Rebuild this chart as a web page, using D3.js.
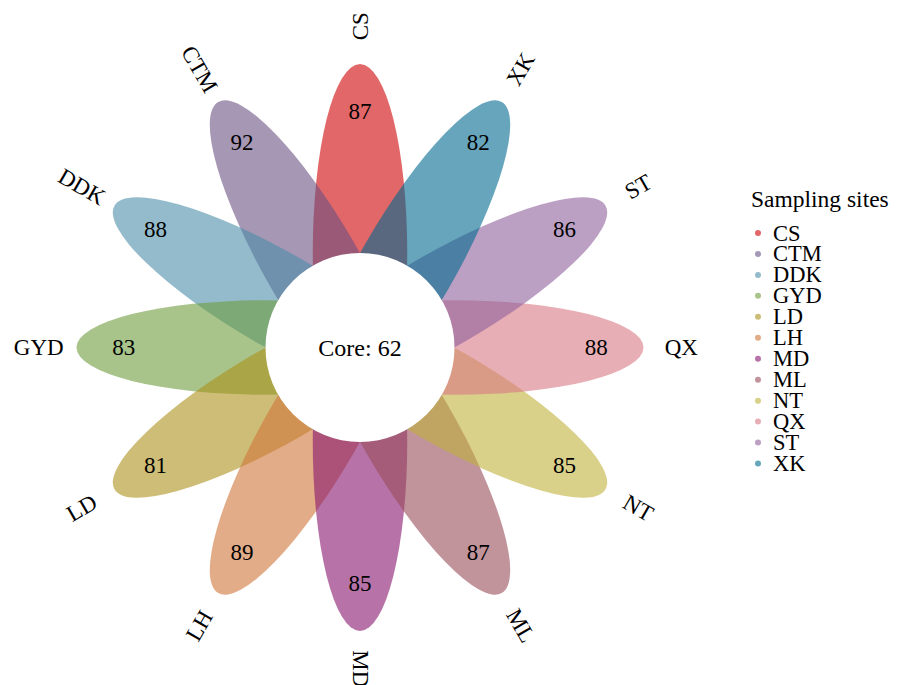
<!DOCTYPE html>
<html>
<head>
<meta charset="utf-8">
<script src="https://cdn.jsdelivr.net/npm/d3@7"></script>
<style>
  html, body { margin: 0; padding: 0; background: #fff; }
  svg { display: block; font-family: "Liberation Serif", "Times New Roman", serif; }
</style>
</head>
<body>
<svg id="chart" width="905" height="685"></svg>
<script>
// Sampling sites, listed counter-clockwise from the top petal
const sites = ["CS", "CTM", "DDK", "GYD", "LD", "LH", "MD", "ML", "NT", "QX", "ST", "XK"];
// OTU count of each site
const otuCounts = [87, 92, 88, 83, 81, 89, 85, 87, 85, 88, 86, 82];
// OTUs shared by every site
const coreOtu = 62;
// Petal fill colours (drawn semi-transparent)
const petalColors = ["#cd0203", "#6b5282", "#4d8ea8", "#6e9d3e", "#ac911b", "#d0753a",
                     "#87166c", "#984d5a", "#c0b13c", "#d97884", "#8e619d", "#00698f"];

const svg = d3.select("#chart");
const cx = 360, cy = 347.5;
const petalAlpha = 0.6;

// one plot unit = circle radius
const unit = d3.scaleLinear().domain([0, 1]).range([0, 94.5]);
const step = 360 / sites.length;
const angleOf = i => 90 + step * i;               // degrees, counter-clockwise
const rad = d => d * Math.PI / 180;
const px = (r, a) => cx + unit(r) * Math.cos(rad(a));
const py = (r, a) => cy - unit(r) * Math.sin(rad(a));

const data = sites.map((s, i) => ({ site: s, n: otuCounts[i], color: petalColors[i], angle: angleOf(i) }));

// petals
svg.append("g").selectAll("ellipse").data(data).join("ellipse")
  .attr("cx", d => px(1, d.angle))
  .attr("cy", d => py(1, d.angle))
  .attr("rx", unit(2))
  .attr("ry", unit(0.5))
  .attr("transform", d => `rotate(${-d.angle},${px(1, d.angle)},${py(1, d.angle)})`)
  .attr("fill", d => d.color)
  .attr("fill-opacity", petalAlpha);

// white core
svg.append("circle").attr("cx", cx).attr("cy", cy).attr("r", unit(1)).attr("fill", "#fff");
svg.append("text").attr("x", cx).attr("y", cy)
  .attr("text-anchor", "middle").attr("dominant-baseline", "central")
  .attr("font-size", 24).text(`Core: ${coreOtu}`);

// OTU counts on the petals
svg.append("g").selectAll("text").data(data).join("text")
  .attr("x", d => px(2.5, d.angle))
  .attr("y", d => py(2.5, d.angle))
  .attr("text-anchor", "middle").attr("dominant-baseline", "central")
  .attr("font-size", 23)
  .text(d => d.n);

// site names beyond the petal tips, rotated along the petal
const textAngle = a => { let t = ((a % 360) + 360) % 360; if (t > 90 && t < 270) t -= 180; return t; };
svg.append("g").selectAll("text").data(data).join("text")
  .attr("text-anchor", "middle").attr("dominant-baseline", "central")
  .attr("font-size", 23)
  .attr("transform", d => `translate(${px(3.4, d.angle)},${py(3.4, d.angle)}) rotate(${-textAngle(d.angle)})`)
  .text(d => d.site);

// legend
const legend = svg.append("g").attr("transform", "translate(751,0)");
legend.append("text").attr("x", 0).attr("y", 207).attr("font-size", 23.5).text("Sampling sites");
const rowY = d3.scalePoint().domain(sites).range([233, 463.5]);
const rows = legend.selectAll("g.row").data(data).join("g").attr("class", "row")
  .attr("transform", d => `translate(0,${rowY(d.site)})`);
rows.append("circle").attr("cx", 7).attr("cy", 0).attr("r", 3)
  .attr("fill", d => d.color).attr("fill-opacity", petalAlpha);
rows.append("text").attr("x", 22).attr("y", 0).attr("dominant-baseline", "central")
  .attr("font-size", 22.5).text(d => d.site);
</script>
</body>
</html>
